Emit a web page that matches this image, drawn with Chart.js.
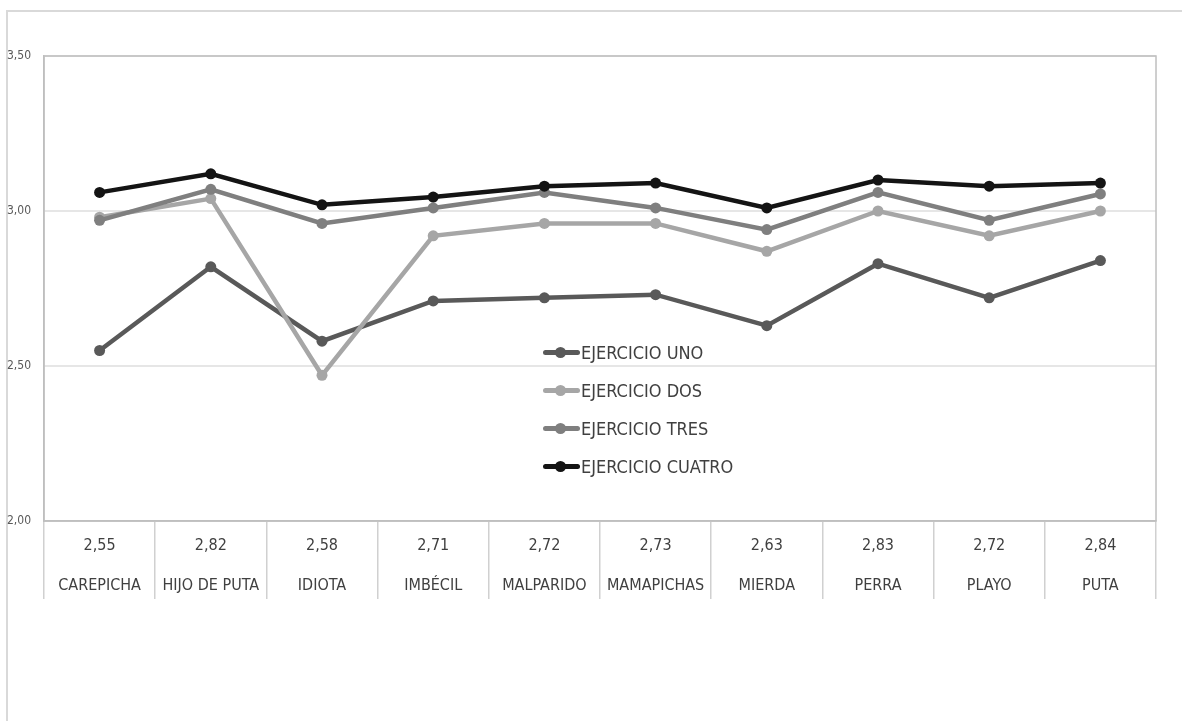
<!DOCTYPE html>
<html>
<head>
<meta charset="utf-8">
<script src="https://cdn.jsdelivr.net/npm/chart.js@4"></script>
<style>
  body { margin: 0; background: #fff; }
  #wrap { position: relative; width: 1182px; height: 721px; overflow: hidden; }
  #marco { position: absolute; left: 6px; top: 10px; width: 1200px; height: 720px;
           border-top: 2px solid #d9d9d9; border-left: 2px solid #d9d9d9; }
  #grafico { position: absolute; left: 0; top: 0; }
  #leyenda { position: absolute; left: 543px; top: 333px;
             font-family: 'Liberation Sans Narrow', 'DejaVu Sans Condensed', sans-serif;
             font-size: 18px; color: #404040; }
  .fila { height: 38px; display: flex; align-items: center; }
  .marca { position: relative; width: 37px; height: 5px; border-radius: 3px; margin-right: 1px; }
  .marca span { position: absolute; left: 12px; top: -3px; width: 11px; height: 11px; border-radius: 50%; }
</style>
</head>
<body>
<div id="wrap">
  <div id="marco"></div>
  <canvas id="grafico" width="1182" height="721"></canvas>
  <div id="leyenda"></div>
</div>
<script>
const categorias = ['CAREPICHA', 'HIJO DE PUTA', 'IDIOTA', 'IMBÉCIL', 'MALPARIDO',
                    'MAMAPICHAS', 'MIERDA', 'PERRA', 'PLAYO', 'PUTA'];
const ejercicioUno    = [2.55, 2.82, 2.58, 2.71, 2.72, 2.73, 2.63, 2.83, 2.72, 2.84];
const ejercicioDos    = [2.98, 3.04, 2.47, 2.92, 2.96, 2.96, 2.87, 3.00, 2.92, 3.00];
const ejercicioTres   = [2.97, 3.07, 2.96, 3.01, 3.06, 3.01, 2.94, 3.06, 2.97, 3.055];
const ejercicioCuatro = [3.06, 3.12, 3.02, 3.045, 3.08, 3.09, 3.01, 3.10, 3.08, 3.09];
const nombres = ['EJERCICIO UNO', 'EJERCICIO DOS', 'EJERCICIO TRES', 'EJERCICIO CUATRO'];
const colores = ['#595959', '#a6a6a6', '#7f7f7f', '#141414'];

const fuente = "'Liberation Sans Narrow', 'DejaVu Sans Condensed', sans-serif";
const coma = (v) => v.toFixed(2).replace('.', ',');

// etiquetas de la tabla: valor de UNO arriba, categoria abajo
const etiquetas = categorias.map((c, i) => [coma(ejercicioUno[i]), c]);

const series = [ejercicioUno, ejercicioDos, ejercicioTres, ejercicioCuatro];

// leyenda en html
const ley = document.getElementById('leyenda');
nombres.forEach((n, i) => {
  ley.innerHTML += '<div class="fila"><div class="marca" style="background:' + colores[i] +
    '"><span style="background:' + colores[i] + '"></span></div>' + n + '</div>';
});

const marcoArea = {
  id: 'marcoArea',
  beforeDatasetsDraw(chart) {
    const a = chart.chartArea, c = chart.ctx;
    c.save();
    c.strokeStyle = '#bfbfbf';
    c.lineWidth = 1.5;
    c.strokeRect(a.left, a.top, a.right - a.left, a.bottom - a.top);
    c.restore();
  }
};

const ctx = document.getElementById('grafico');

new Chart(ctx, {
  type: 'line',
  data: {
    labels: etiquetas,
    datasets: series.map((d, i) => ({
      label: nombres[i],
      data: d,
      borderColor: colores[i],
      backgroundColor: colores[i],
      borderWidth: 4.5,
      pointRadius: 5.5,
      pointBorderWidth: 0,
      pointBackgroundColor: colores[i],
      tension: 0,
      order: 4 - i
    }))
  },
  options: {
    responsive: false,
    animation: false,
    layout: { padding: { left: 0, top: 56, right: 26, bottom: 0 } },
    plugins: {
      legend: { display: false },
      tooltip: { enabled: false }
    },
    scales: {
      x: {
        offset: true,
        grid: { offset: true, drawOnChartArea: false, tickLength: 78, color: '#d0d0d0', lineWidth: 1.5 },
        border: { color: '#bfbfbf', width: 1.5 },
        ticks: {
          padding: -73,
          color: '#404040',
          maxRotation: 0,
          autoSkip: false,
          font: { family: fuente, size: 16, lineHeight: 2.5 }
        },
        afterFit: (s) => { s.height = 200; }
      },
      y: {
        min: 2,
        max: 3.5,
        grid: { color: '#e6e6e6', lineWidth: 2, drawTicks: false },
        border: { color: '#bfbfbf', width: 1.5 },
        ticks: {
          stepSize: 0.5,
          padding: 13,
          color: '#595959',
          font: { family: fuente, size: 12 },
          callback: (v) => coma(v)
        },
        afterFit: (s) => { s.width = 44; }
      }
    }
  },
  plugins: [marcoArea]
});
</script>
</body>
</html>
